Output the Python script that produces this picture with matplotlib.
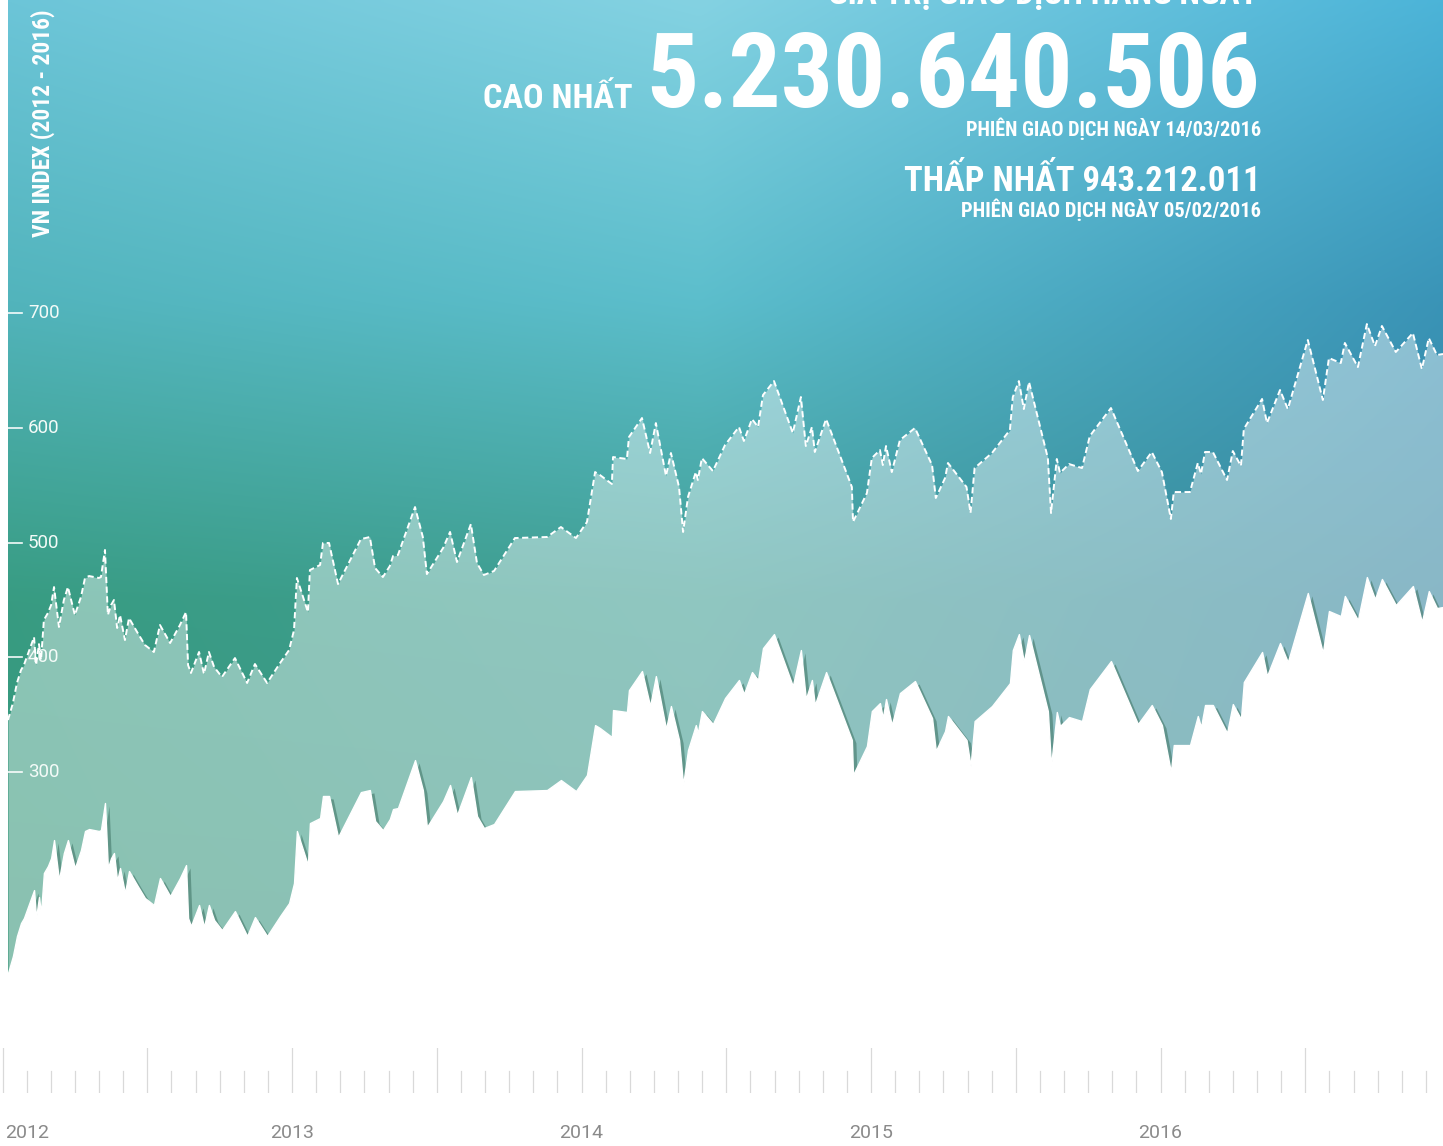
import numpy as np
import matplotlib
matplotlib.use("Agg")
import matplotlib.pyplot as plt
from matplotlib import font_manager as fm

# ---------------- data ----------------
dates = [2012.019, 2012.036, 2012.050, 2012.064, 2012.074, 2012.109, 2012.116, 2012.126, 2012.133, 2012.143,
         2012.157, 2012.168, 2012.178, 2012.195, 2012.212, 2012.226, 2012.250, 2012.271, 2012.285, 2012.299,
         2012.333, 2012.340, 2012.354, 2012.364, 2012.375, 2012.385, 2012.396, 2012.406, 2012.423, 2012.437,
         2012.465, 2012.492, 2012.523, 2012.544, 2012.579, 2012.613, 2012.634, 2012.641, 2012.651, 2012.679,
         2012.696, 2012.713, 2012.731, 2012.758, 2012.803, 2012.845, 2012.872, 2012.914, 2012.959, 2012.990,
         2013.007, 2013.017, 2013.055, 2013.062, 2013.097, 2013.107, 2013.128, 2013.159, 2013.238, 2013.269,
         2013.287, 2013.314, 2013.338, 2013.349, 2013.366, 2013.425, 2013.452, 2013.466, 2013.522, 2013.546,
         2013.570, 2013.618, 2013.639, 2013.663, 2013.698, 2013.770, 2013.881, 2013.929, 2013.981,
         2014.019, 2014.047, 2014.064, 2014.105, 2014.109, 2014.157, 2014.164, 2014.209, 2014.237, 2014.257,
         2014.292, 2014.309, 2014.337, 2014.351, 2014.368, 2014.395, 2014.402, 2014.416, 2014.454, 2014.496,
         2014.544, 2014.561, 2014.589, 2014.610, 2014.627, 2014.665, 2014.730, 2014.758, 2014.775, 2014.796,
         2014.806, 2014.845, 2014.883, 2014.934, 2014.938, 2014.986,
         2015.003, 2015.031, 2015.041, 2015.052, 2015.072, 2015.100, 2015.152, 2015.211, 2015.224, 2015.256,
         2015.266, 2015.330, 2015.344, 2015.358, 2015.418, 2015.480, 2015.490, 2015.511, 2015.528, 2015.546,
         2015.611, 2015.622, 2015.642, 2015.653, 2015.684, 2015.729, 2015.756, 2015.829, 2015.922, 2015.970,
         2016.005, 2016.036, 2016.046, 2016.102, 2016.129, 2016.140, 2016.154, 2016.181, 2016.230, 2016.250,
         2016.278, 2016.288, 2016.351, 2016.368, 2016.413, 2016.440, 2016.509, 2016.561, 2016.582, 2016.623,
         2016.637, 2016.682, 2016.713, 2016.741, 2016.765, 2016.813, 2016.872, 2016.903, 2016.927, 2016.955,
         2016.976]

vn_index = [345.3, 360.1, 377.6, 388.9, 393.2, 417.6, 393.2, 411.5, 397.6, 432.5,
            438.6, 445.5, 461.2, 426.4, 449.9, 461.2, 436.8, 452.5, 469.1, 470.8,
            469.1, 469.9, 493.5, 436.8, 445.5, 449.9, 425.5, 436.8, 415.0, 434.2,
            422.0, 410.7, 404.6, 428.1, 412.4, 428.1, 439.4, 393.2, 386.3, 404.6,
            385.4, 404.6, 391.5, 382.8, 399.3, 377.6, 394.1, 377.6, 395.0, 406.3,
            423.7, 469.1, 439.4, 476.0, 480.4, 499.6, 499.6, 463.8, 503.0, 504.8,
            477.8, 469.9, 479.5, 488.2, 489.1, 530.9, 504.8, 472.5, 495.2, 509.2,
            483.0, 516.1, 482.1, 471.7, 475.2, 503.9, 504.8, 513.5, 503.9,
            517.9, 561.4, 558.8, 551.0, 574.5, 572.8, 591.9, 608.5, 578.0, 604.1,
            558.0, 578.0, 548.4, 509.2, 539.7, 561.4, 554.5, 573.6, 562.3, 585.0,
            600.7, 588.5, 607.6, 600.7, 628.5, 640.7, 595.4, 626.8, 584.1, 600.7,
            578.9, 607.6, 582.4, 548.4, 517.9, 543.1,
            573.6, 580.6, 567.5, 584.1, 561.4, 589.3, 599.8, 567.5, 538.8, 556.2,
            569.3, 548.4, 525.7, 564.9, 578.0, 598.0, 626.8, 640.7, 616.3, 639.9,
            573.6, 525.7, 572.8, 560.6, 568.4, 564.9, 592.8, 617.2, 562.3, 578.9,
            561.4, 520.5, 544.0, 544.0, 569.3, 559.7, 578.9, 578.9, 554.5, 579.7,
            566.7, 598.9, 625.1, 604.1, 632.9, 616.3, 676.5, 624.2, 660.8, 656.4,
            673.9, 652.9, 690.4, 671.2, 688.7, 666.0, 682.6, 651.2, 678.2, 663.4,
            664.3]

band_depth = 220.5            # depth of the lighter band below the index line
y_ticks = [300, 400, 500, 600, 700]
year_ticks = [2012, 2013, 2014, 2015, 2016]
year_labels = ["2012", "2013", "2014", "2015", "2016"]

title_vertical = "VN INDEX (2012 - 2016)"
head_cut = "GIÁ TRỊ GIAO DỊCH HÀNG NGÀY"
high_label = "CAO NHẤT"
high_value = "5.230.640.506"
high_date = "PHIÊN GIAO DỊCH NGÀY 14/03/2016"
low_line = "THẤP NHẤT 943.212.011"
low_date = "PHIÊN GIAO DỊCH NGÀY 05/02/2016"

# ---------------- fonts ----------------
names = {f.name for f in fm.fontManager.ttflist}
cond = "DejaVu Sans"
for c in ["Roboto Condensed", "Noto Sans ExtraCondensed", "Noto Sans Condensed", "Open Sans Condensed",
          "DejaVu Sans Condensed", "Liberation Sans Narrow"]:
    if c in names:
        cond = c
        break
light = "Roboto" if "Roboto" in names else "DejaVu Sans"

# ---------------- figure ----------------
W, H = 1443, 1146
fig = plt.figure(figsize=(W / 100, H / 100), dpi=100)
fig.patch.set_facecolor("white")

ax = fig.add_axes([8 / W, 1 - 1045 / H, (W - 8) / W, 1045 / H])
X0, X1 = 2012.019, 2016.976
Y0, Y1 = 62.1, 972.8
ax.set_xlim(X0, X1)
ax.set_ylim(Y0, Y1)
ax.axis("off")

# gradient background
rows_px = [0, 300, 600, 1045]
cols_px = [8, 700, 1443]
ctrl = np.array([
    [[108, 197, 216], [132, 210, 226], [76, 180, 216]],
    [[82, 180, 188], [92, 190, 204], [58, 148, 183]],
    [[56, 156, 130], [64, 158, 148], [52, 132, 158]],
    [[54, 148, 118], [60, 148, 132], [52, 126, 146]],
], dtype=float) / 255.0
ny, nx = 300, 400
ys = np.linspace(0, 1045, ny)
xs = np.linspace(8, 1443, nx)
tmp = np.zeros((len(rows_px), nx, 3))
for r in range(len(rows_px)):
    for ch in range(3):
        tmp[r, :, ch] = np.interp(xs, cols_px, ctrl[r, :, ch])
img = np.zeros((ny, nx, 3))
for i in range(nx):
    for ch in range(3):
        img[:, i, ch] = np.interp(ys, rows_px, tmp[:, i, ch])
ax.imshow(img, extent=(X0, X1, Y0, Y1), origin="upper", aspect="auto", zorder=0,
          interpolation="bilinear")

d = np.array(dates)
v = np.array(vn_index)
lower = v - band_depth

ax.fill_between(d, lower, v, color="white", alpha=0.42, lw=0, zorder=1)
ax.fill_between(d + 0.014, lower - 2.5, Y0, color="#4a7e70", alpha=0.65, lw=0, zorder=2)
ax.fill_between(d, lower, Y0, facecolor="white", edgecolor="white", lw=1.0, zorder=3,
                clip_on=False)

# y ticks and labels (inside)
ytr = ax.get_yaxis_transform()
for t in y_ticks:
    ax.plot([0, 14 / 1435], [t, t], color="white", lw=1.2, alpha=0.95, transform=ytr, zorder=4)
    ax.text(20 / 1435, t, str(t), color="#f4fbf8", fontsize=13.5, family=light,
            fontweight="normal", ha="left", va="center", transform=ytr, zorder=4)

ax.plot(d, v, color="white", lw=1.4, dashes=(3.2, 1.8), zorder=5)

# bottom tick strip
tax = fig.add_axes([0, 1 - 1093 / H, 1, (1093 - 1048) / H])
tx0 = 2012 + (0 - 2.5) / 289.5
tx1 = 2012 + (W - 2.5) / 289.5
tax.set_xlim(tx0, tx1)
tax.set_ylim(0, 1)
tax.axis("off")
for m in range(0, 60):
    pos = 2012 + m / 12
    top = 1.0 if m % 6 == 0 else 0.5
    tax.plot([pos, pos], [0, top], color="#d9d9d9", lw=0.9)

ltr = matplotlib.transforms.blended_transform_factory(tax.transData, fig.transFigure)
for yr, lab in zip(year_ticks, year_labels):
    ha = "left" if yr == year_ticks[0] else "center"
    xx = yr + (3 / 289.5 if yr == year_ticks[0] else 0.0)
    fig.text(xx, 1 - 1138 / H, lab, transform=ltr, ha=ha, va="baseline",
             fontsize=14, color="#8a8a8a", family=light)

# ---------------- header texts ----------------
renderer = fig.canvas.get_renderer()


def fit_text(s, x_px, base_px, width_px=None, height_px=None, ha="right", **kw):
    t = fig.text(x_px / W, 1 - base_px / H, s, ha=ha, va="baseline", fontsize=20,
                 color="white", family=cond, fontweight="bold", **kw)
    bb = t.get_window_extent(renderer)
    if width_px is not None:
        t.set_fontsize(20 * width_px / bb.width)
    else:
        t.set_fontsize(20 * height_px / bb.height)
    return t


fit_text(head_cut, 1258, 4, width_px=430)
fit_text(high_value, 1260, 107, width_px=615)
fit_text(high_label, 633, 108, width_px=150)
fit_text(high_date, 1261, 136, width_px=296)
fit_text(low_line, 1261, 191, width_px=356)
fit_text(low_date, 1261, 217, width_px=299)

tv = fig.text(55 / W, 1 - 237 / H, title_vertical, ha="right", va="bottom", rotation=90,
              fontsize=20, color="white", family=cond, fontweight="bold")
bb = tv.get_window_extent(renderer)
tv.set_fontsize(20 * 227 / bb.height)

fig.savefig("out.png", dpi=100, facecolor="white")
